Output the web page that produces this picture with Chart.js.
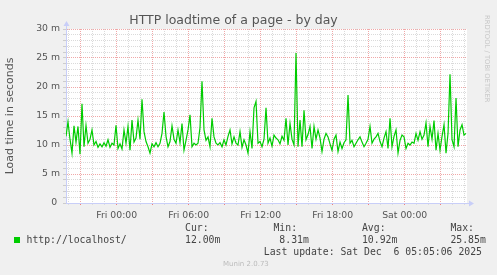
<!DOCTYPE html>
<html>
<head>
<meta charset="utf-8">
<script src="https://cdn.jsdelivr.net/npm/chart.js@4.4.1/dist/chart.umd.min.js"></script>
<style>
  html, body { margin: 0; padding: 0; background: #f0f0f0; }
  #wrap { position: relative; width: 497px; height: 275px; overflow: hidden; }
  #myChart { position: absolute; left: 0; top: 0; }
  .mono { position: absolute; white-space: pre; font-family: "DejaVu Sans Mono", monospace; font-size: 9.8px; line-height: 12px; color: #444; }
  #swatch { position: absolute; left: 14px; top: 237px; width: 6px; height: 6px; background: #00cc00; }
  #munin { position: absolute; left: 223px; top: 260px; font-family: "DejaVu Sans", sans-serif; font-size: 7px; line-height: 9px; color: #bbb; white-space: pre; }
  #rrd { position: absolute; left: 491px; top: 15px; transform-origin: left top; transform: rotate(90deg); font-family: "DejaVu Sans", sans-serif; font-size: 6.8px; line-height: 8px; color: #c8c8c8; white-space: pre; }
</style>
</head>
<body>
<div id="wrap">
  <canvas id="myChart" width="497" height="275"></canvas>
  <div id="swatch"></div>
  <div class="mono" id="seriesName" style="left:26.5px; top:234px;"></div>
  <div class="mono" id="statHeads" style="left:185px; top:222px;"></div>
  <div class="mono" id="statValues" style="left:185px; top:234px;"></div>
  <div class="mono" id="lastUpdate" style="right:15px; top:246px;"></div>
  <div id="munin">Munin 2.0.73</div>
  <div id="rrd">RRDTOOL / TOBI OETIKER</div>
</div>
<script>
// load time samples (milliseconds), one every 10 minutes, oldest first
const loadTimes = [
  11.5, 14.0, 11.0, 8.6, 13.3, 10.5, 13.2, 8.4, 17.1, 9.7,
  13.4, 10.3, 11.0, 12.6, 10.0, 10.6, 9.6, 10.2, 9.7, 10.4,
  9.8, 10.9, 9.6, 10.3, 10.0, 13.4, 9.4, 10.2, 9.3, 12.6,
  10.3, 13.2, 9.1, 14.3, 10.5, 11.2, 14.3, 11.0, 17.9, 12.3,
  10.6, 9.7, 8.6, 10.2, 9.7, 10.4, 9.7, 10.3, 12.0, 15.7,
  11.5, 9.7, 10.6, 13.3, 11.0, 10.3, 12.6, 10.4, 13.7, 9.1,
  10.8, 12.6, 15.2, 9.7, 10.3, 10.0, 10.3, 13.0, 21.0, 12.6,
  10.8, 11.4, 9.7, 14.6, 11.4, 10.3, 10.0, 10.4, 9.7, 10.9,
  10.0, 11.5, 12.6, 10.2, 11.4, 10.3, 10.0, 12.3, 9.6, 10.9,
  10.0, 8.6, 12.3, 9.4, 16.4, 17.5, 10.3, 10.6, 9.7, 11.0,
  16.4, 10.3, 11.2, 9.8, 11.7, 11.2, 10.9, 10.2, 11.5, 10.8,
  14.6, 10.0, 13.7, 11.0, 10.0, 25.85, 9.7, 14.3, 9.7, 16.0,
  10.9, 11.8, 13.2, 9.4, 13.2, 11.0, 12.6, 11.2, 8.85, 11.0,
  12.0, 11.4, 10.2, 9.1, 11.0, 11.7, 8.85, 10.5, 9.4, 10.4,
  10.9, 18.6, 10.3, 10.8, 9.7, 10.3, 10.9, 11.4, 10.5, 9.7,
  10.3, 11.0, 13.2, 10.3, 11.0, 11.4, 12.0, 10.6, 9.7, 11.2,
  12.3, 9.4, 14.6, 9.7, 11.5, 12.6, 8.6, 10.8, 11.7, 11.4,
  9.4, 10.3, 10.0, 10.5, 10.3, 12.0, 10.8, 12.3, 11.0, 11.7,
  13.8, 9.7, 13.2, 11.0, 14.2, 9.1, 12.0, 9.1, 11.5, 13.5,
  8.6, 12.0, 22.2, 10.9, 9.7, 18.1, 9.7, 12.6, 13.5, 11.7,
  12.0
];
// hours relative to Fri 00:00
const startHour = -4.225;
const stepHours = 1 / 6;
const xMin = -4.225;
const xMax = 29.19;

const xTickHours = [0, 6, 12, 18, 24];
const xTickLabels = ["Fri 00:00", "Fri 06:00", "Fri 12:00", "Fri 18:00", "Sat 00:00"];
const yTickValues = [0, 5, 10, 15, 20, 25, 30];
const yTickLabels = ["0 ", "5 m", "10 m", "15 m", "20 m", "25 m", "30 m"];

const seriesName = "http://localhost/";
const statNames = ["Cur:", "Min:", "Avg:", "Max:"];
const statValues = ["12.00m", " 8.31m", "10.92m", "25.85m"];
const lastUpdate = "Last update: Sat Dec  6 05:05:06 2025";

const axisColor = "#c8cef8";
const minorGrid = "#dadada";
const majorGrid = "#f0a8a8";

// legend text, columns padded like munin does
const pad = (s, n) => s + " ".repeat(Math.max(0, n - s.length));
document.querySelector("#seriesName").textContent = seriesName;
document.querySelector("#statHeads").textContent = statNames.map((s, i) => i < 3 ? pad(s, 15) : s).join("");
document.querySelector("#statValues").textContent = statValues.map((s, i) => i < 3 ? pad(s, 15) : s).join("");
document.querySelector("#lastUpdate").textContent = lastUpdate;

const points = loadTimes.map((v, i) => ({ x: startHour + i * stepHours, y: v }));

const minorHours = [];
for (let h = Math.ceil(xMin); h <= Math.floor(xMax); h++) minorHours.push(h);
const minorMs = [];
for (let v = 0; v <= 30; v++) minorMs.push(v);

const plotBackground = {
  id: "plotBackground",
  beforeDraw: (c) => {
    const { ctx, chartArea: a } = c;
    ctx.save();
    ctx.fillStyle = "#ffffff";
    ctx.fillRect(a.left, a.top, a.right - a.left, a.bottom - a.top);
    ctx.restore();
  },
};

const axisArrows = {
  id: "axisArrows",
  afterDraw: (c) => {
    const { ctx, chartArea: a } = c;
    ctx.save();
    ctx.strokeStyle = axisColor;
    ctx.fillStyle = axisColor;
    ctx.lineWidth = 1;
    ctx.beginPath();
    ctx.moveTo(a.left + 0.5, a.top);
    ctx.lineTo(a.left + 0.5, a.top - 4);
    ctx.moveTo(a.right, a.bottom + 0.5);
    ctx.lineTo(a.right + 3, a.bottom + 0.5);
    ctx.stroke();
    ctx.beginPath();
    ctx.moveTo(a.left - 2.5, a.top - 3);
    ctx.lineTo(a.left + 3.5, a.top - 3);
    ctx.lineTo(a.left + 0.5, a.top - 8);
    ctx.closePath();
    ctx.fill();
    ctx.beginPath();
    ctx.moveTo(a.right + 2, a.bottom - 2.5);
    ctx.lineTo(a.right + 2, a.bottom + 3.5);
    ctx.lineTo(a.right + 7, a.bottom + 0.5);
    ctx.closePath();
    ctx.fill();
    ctx.restore();
  },
};

const chart = new Chart(document.querySelector("#myChart"), {
  type: "line",
  data: {
    datasets: [
      {
        data: points,
        borderColor: "#00cc00",
        borderWidth: 1.2,
        pointRadius: 0,
        tension: 0,
        fill: false,
      },
    ],
  },
  options: {
    responsive: false,
    animation: false,
    devicePixelRatio: 1,
    layout: { padding: { left: 0, right: 30, top: 0, bottom: 0 } },
    plugins: {
      legend: { display: false },
      tooltip: { enabled: false },
      title: {
        display: true,
        text: "HTTP loadtime of a page - by day",
        color: "#555",
        font: { family: "DejaVu Sans", size: 12.5, weight: "normal" },
        padding: { top: 13, bottom: 1 },
      },
    },
    scales: {
      x: {
        type: "linear",
        min: xMin,
        max: xMax,
        afterBuildTicks: (s) => { s.ticks = minorHours.map((h) => ({ value: h })); },
        afterFit: (s) => { s.height = 72; },
        ticks: {
          autoSkip: false,
          maxRotation: 0,
          padding: 5,
          color: "#555",
          font: { family: "DejaVu Sans", size: 9.3 },
          callback: (v) => {
            const k = xTickHours.indexOf(v);
            return k >= 0 ? xTickLabels[k] : "";
          },
        },
        grid: {
          color: (ctx) => (((ctx.tick.value % 3) + 3) % 3 === 0 ? majorGrid : minorGrid),
          tickColor: (ctx) => (((ctx.tick.value % 3) + 3) % 3 === 0 ? "#f08080" : "#dddddd"),
          tickLength: 2,
        },
        border: { color: axisColor, dash: [1, 1] },
      },
      y: {
        type: "linear",
        min: 0,
        max: 30,
        afterBuildTicks: (s) => { s.ticks = minorMs.map((v) => ({ value: v })); },
        afterFit: (s) => { s.width = 66; },
        ticks: {
          autoSkip: false,
          padding: 3,
          color: "#555",
          font: { family: "DejaVu Sans", size: 9.3 },
          callback: (v) => {
            const k = yTickValues.indexOf(v);
            return k >= 0 ? yTickLabels[k] : "";
          },
        },
        grid: {
          color: (ctx) => (ctx.tick.value === 0 ? "rgba(0,0,0,0)" : ctx.tick.value % 5 === 0 ? majorGrid : minorGrid),
          tickColor: "#cccccc",
          tickLength: 3,
        },
        border: { color: axisColor, dash: [1, 1] },
        title: {
          display: true,
          text: "Load time in seconds",
          color: "#555",
          font: { family: "DejaVu Sans", size: 11 },
          padding: { top: 4, bottom: 0 },
        },
      },
    },
  },
  plugins: [plotBackground, axisArrows],
});
</script>
</body>
</html>
